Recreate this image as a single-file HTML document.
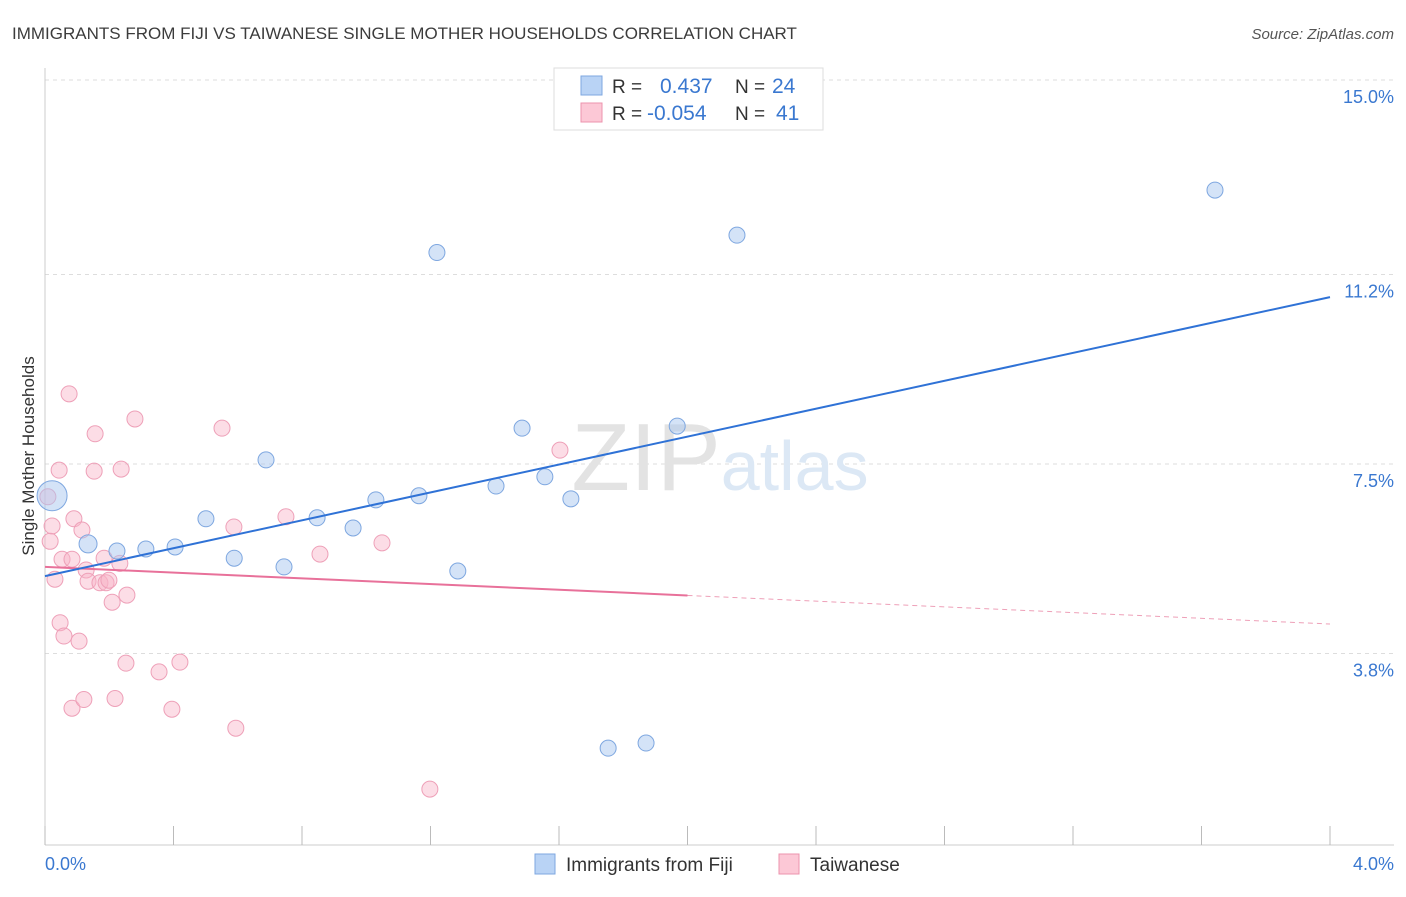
<!DOCTYPE html>
<html><head><meta charset="utf-8"><style>
body{margin:0;background:#fff;font-family:"Liberation Sans",sans-serif}
svg text{font-family:"Liberation Sans",sans-serif}
</style></head><body>
<svg id="chart" width="1406" height="892" viewBox="0 0 1406 892" xmlns="http://www.w3.org/2000/svg">
<text x="12" y="39" font-size="17" fill="#3c3c3c">IMMIGRANTS FROM FIJI VS TAIWANESE SINGLE MOTHER HOUSEHOLDS CORRELATION CHART</text>
<text x="1394" y="39" font-size="15" fill="#555" text-anchor="end" font-style="italic">Source: ZipAtlas.com</text>
<g id="grid"></g>
<text x="720" y="490" font-size="96" text-anchor="middle" fill="#e3e3e3" font-family="Liberation Serif">ZIP<tspan fill="#dce8f5" font-family="Liberation Sans" font-size="70">atlas</tspan></text>
<g id="marks"></g>
<text transform="translate(34,456) rotate(-90)" font-size="17" fill="#333" text-anchor="middle">Single Mother Households</text>
<text x="45" y="870" font-size="18" fill="#3a78d0">0.0%</text>
<text x="1394" y="870" font-size="18" fill="#3a78d0" text-anchor="end">4.0%</text>
<g>
<rect x="554" y="68" width="269" height="62" fill="#fff" stroke="#ddd"/>
<rect x="581" y="76" width="21" height="19" fill="#b9d3f5" stroke="#7ea7e0"/>
<rect x="581" y="103" width="21" height="19" fill="#fcc8d6" stroke="#ec93ad"/>
<text x="612" y="93" font-size="19" fill="#333">R =</text><text x="660" y="93" font-size="21" fill="#3a78d0">0.437</text>
<text x="735" y="93" font-size="19" fill="#333">N =</text><text x="772" y="93" font-size="21" fill="#3a78d0">24</text>
<text x="612" y="120" font-size="19" fill="#333">R =</text><text x="647" y="120" font-size="21" fill="#3a78d0">-0.054</text>
<text x="735" y="120" font-size="19" fill="#333">N =</text><text x="776" y="120" font-size="21" fill="#3a78d0">41</text>
</g>
<g><rect x="535" y="854" width="20" height="20" fill="#b9d3f5" stroke="#7ea7e0"/><text x="566" y="871" font-size="19" fill="#333">Immigrants from Fiji</text></g>
<g><rect x="779" y="854" width="20" height="20" fill="#fcc8d6" stroke="#ec93ad"/><text x="810" y="871" font-size="19" fill="#333">Taiwanese</text></g>
</svg>
<script>
const yTicks=[15.0,11.2,7.5,3.8];
const yTickLabels=["15.0%","11.2%","7.5%","3.8%"];
const xTicks=[0,0.4,0.8,1.2,1.6,2.0,2.4,2.8,3.2,3.6,4.0];
const fijiX=[0.022,0.134,0.224,0.314,0.405,0.501,0.589,0.688,0.744,0.847,0.959,1.030,1.164,1.220,1.285,1.404,1.485,1.556,1.637,1.753,1.871,1.968,2.154,3.642];
const fijiY=[6.88,5.94,5.80,5.84,5.88,6.43,5.66,7.58,5.49,6.45,6.25,6.80,6.88,11.63,5.41,7.07,8.20,7.25,6.82,1.95,2.05,8.24,11.97,12.85];
const fijiR=[15,9,8,8,8,8,8,8,8,8,8,8,8,8,8,8,8,8,8,8,8,8,8,8];
const taiX=[0.009,0.022,0.016,0.031,0.044,0.047,0.053,0.059,0.075,0.084,0.090,0.084,0.106,0.115,0.121,0.128,0.134,0.153,0.156,0.171,0.184,0.190,0.199,0.209,0.218,0.233,0.237,0.252,0.255,0.280,0.355,0.395,0.420,0.551,0.588,0.594,0.750,0.856,1.049,1.198,1.603];
const taiY=[6.86,6.29,5.99,5.25,7.38,4.40,5.64,4.14,8.87,2.73,6.43,5.64,4.04,6.21,2.90,5.43,5.21,7.36,8.09,5.18,5.66,5.18,5.23,4.80,2.92,5.56,7.40,3.61,4.94,8.38,3.44,2.71,3.63,8.20,6.27,2.34,6.47,5.74,5.96,1.15,7.77];
const fijiTrend=[5.31,10.76];
const taiTrend=[5.49,4.375];
const NS="http://www.w3.org/2000/svg";
const X=v=>45+v*321.25, Y=v=>80+(15-v)*51.2;
function el(t,a,p){const e=document.createElementNS(NS,t);for(const k in a)e.setAttribute(k,a[k]);p.appendChild(e);return e;}
const grid=document.getElementById('grid'),marks=document.getElementById('marks');
yTicks.forEach((v,i)=>{
 const l=el('line',{x1:45,x2:1394,y1:Y(v),y2:Y(v),stroke:'#ddd','stroke-dasharray':'4,4'},grid);
 
 
 const t=el('text',{x:1394,y:Y(v)+23,'font-size':18,fill:'#3a78d0','text-anchor':'end'},grid);t.textContent=yTickLabels[i];
 
 
});
el('line',{x1:45,x2:45,y1:68,y2:845,stroke:'#ccc'},grid);
el('line',{x1:45,x2:1394,y1:845,y2:845,stroke:'#ccc'},grid);
xTicks.forEach(v=>{const t=el('line',{x1:X(v),x2:X(v),y1:826,y2:845,stroke:'#bbb'},grid);
 
 });
taiX.forEach((x,i)=>{const c=el('circle',{cx:X(x),cy:Y(taiY[i]),r:8,fill:'rgba(248,180,200,0.45)',stroke:'#eea0b8','stroke-width':1},marks);
 
 });
fijiX.forEach((x,i)=>{const c=el('circle',{cx:X(x),cy:Y(fijiY[i]),r:fijiR[i],fill:'rgba(170,200,240,0.5)',stroke:'#7ea7e0','stroke-width':1},marks);
 
 });
const tMid=taiTrend[0]+(taiTrend[1]-taiTrend[0])*0.5;
let a=el('line',{x1:X(0),y1:Y(taiTrend[0]),x2:X(2),y2:Y(tMid),stroke:'#e8719a','stroke-width':2},marks);


a=el('line',{x1:X(2),y1:Y(tMid),x2:X(4),y2:Y(taiTrend[1]),stroke:'#eea0b8','stroke-width':1,'stroke-dasharray':'5,4'},marks);


a=el('line',{x1:X(0),y1:Y(fijiTrend[0]),x2:X(4),y2:Y(fijiTrend[1]),stroke:'#2f72d6','stroke-width':2},marks);


</script>
</body></html>
